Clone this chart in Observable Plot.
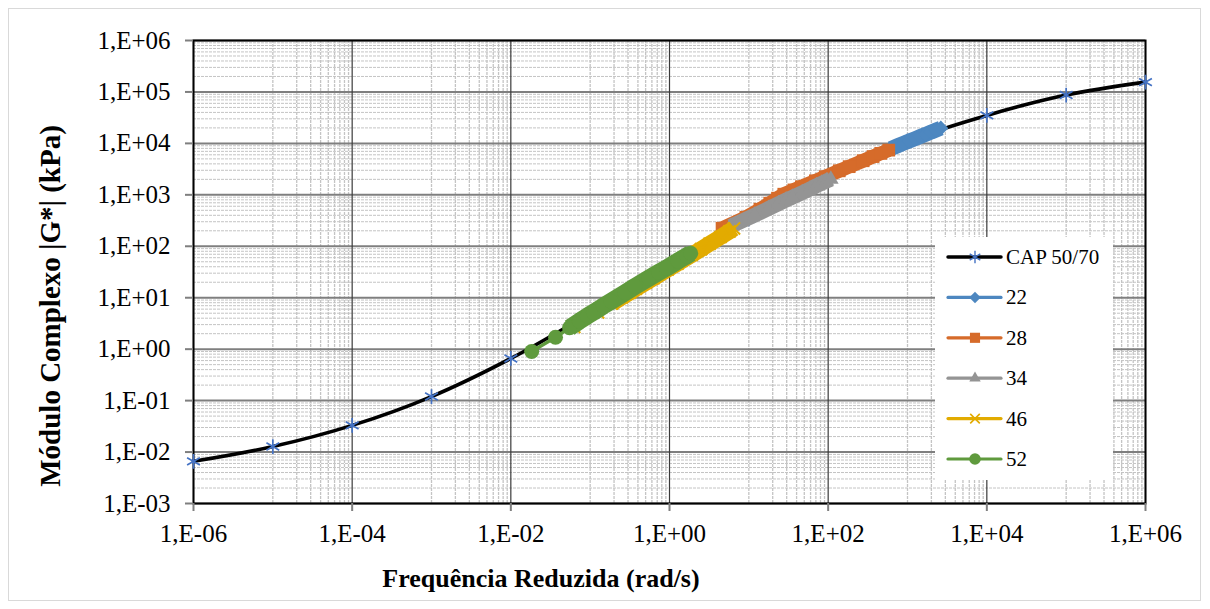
<!DOCTYPE html>
<html><head><meta charset="utf-8">
<script src="https://cdn.jsdelivr.net/npm/d3@7"></script>
<script src="https://cdn.jsdelivr.net/npm/@observablehq/plot@0.6"></script>
<style>
body{margin:0;background:#fff;}
#wrap{position:relative;width:1210px;height:609px;font-family:"Liberation Serif","Times New Roman",serif;}
#border{position:absolute;left:8px;top:8px;width:1193px;height:593px;border:1.5px solid #D9D9D9;box-sizing:border-box}
#chart{position:absolute;left:0;top:0}
#overlay{position:absolute;left:0;top:0;pointer-events:none}
</style></head><body>
<div id="wrap"><div id="border"></div><div id="chart"></div><svg id="overlay" width="1210" height="609"></svg></div>
<script>
// ---- tick values / labels ----
const xTickValues = [1e-6, 1e-4, 1e-2, 1e0, 1e2, 1e4, 1e6];
const xTickLabels = ["1,E-06", "1,E-04", "1,E-02", "1,E+00", "1,E+02", "1,E+04", "1,E+06"];
const yTickValues = [1e-3, 1e-2, 1e-1, 1e0, 1e1, 1e2, 1e3, 1e4, 1e5, 1e6];
const yTickLabels = ["1,E-03", "1,E-02", "1,E-01", "1,E+00", "1,E+01", "1,E+02", "1,E+03", "1,E+04", "1,E+05", "1,E+06"];
const xTitle = "Frequência Reduzida (rad/s)";
const yTitle = "Módulo Complexo |G*| (kPa)";

// ---- series ----
const seriesNames = ["CAP 50/70", "22", "28", "34", "46", "52"];
const capX = [1e-6, 1e-5, 1e-4, 1e-3, 1e-2, 1e-1, 1, 10, 100, 1e3, 1e4, 1e5, 1e6];
const capY = [0.0066, 0.0128, 0.033, 0.12, 0.66, 5.0, 43, 340, 2200, 11000, 35000, 87000, 155000];

const s22X = [615, 750, 900, 1050, 1250, 1450, 1700, 2000, 2300, 2630];
const s22Y = [7900, 9000, 10100, 11100, 12400, 13600, 15000, 16700, 18200, 19800];

const s28X = [4.6, 9.2, 13.8, 18.4, 23, 27.6, 37, 46, 69, 92, 138, 184, 276, 368, 460, 580];
const s28Y = [224, 366, 525, 687, 860, 1028, 1245, 1435, 1870, 2250, 2930, 3530, 4600, 5550, 6400, 7400];

const s34X = [5.9, 11.8, 17.7, 23.6, 29.5, 35.4, 47, 59, 71, 83, 95, 108];
const s34Y = [245, 400, 540, 670, 790, 900, 1100, 1300, 1500, 1680, 1850, 2000];

const s46X = [0.063, 0.126, 0.189, 0.252, 0.315, 0.378, 0.5, 0.63, 0.95, 1.26, 1.9, 2.5, 3.2, 4.4, 5.7, 6.5];
const s46Y = [2.7, 5.2, 7.7, 10.2, 12.6, 15, 19.5, 24, 35.5, 46, 68, 88, 112, 152, 195, 222];

const s52X = [0.0183, 0.0366, 0.055, 0.073, 0.092, 0.11, 0.146, 0.183, 0.275, 0.366, 0.55, 0.73, 0.92, 1.28, 1.65, 1.85];
const s52Y = [0.9, 1.7, 2.6, 3.5, 4.4, 5.2, 6.9, 8.5, 12.5, 16.5, 24, 31, 38, 52, 65, 73];

// ---- styles ----
const styles = {
  "22": {color: "#4D87C0", symbol: "diamond2", r: 6.8, band: 15, bandFrom: 0, filled: true},
  "28": {color: "#D66B2A", symbol: "square", r: 7.2, band: 14, bandFrom: 0, filled: true},
  "34": {color: "#949494", symbol: "triangle", r: 5.8, band: 15, bandFrom: 0, filled: true},
  "46": {color: "#E2AB00", symbol: "times", r: 5.6, band: 16, bandFrom: 2, filled: false},
  "52": {color: "#5F9A3D", symbol: "circle", r: 7.5, band: 17, bandFrom: 2, filled: true}
};
const capColor = "#4472C4";

const toRows = (name, xs, ys) => xs.map((x, i) => ({series: name, x, y: ys[i], i}));
const capRows = toRows("CAP 50/70", capX, capY);
const seriesRows = {
  "22": toRows("22", s22X, s22Y),
  "28": toRows("28", s28X, s28Y),
  "34": toRows("34", s34X, s34Y),
  "46": toRows("46", s46X, s46Y),
  "52": toRows("52", s52X, s52Y)
};

// minor gridlines derived from axis structure
const minorX = [];
for (let e = -6; e < 6; e += 2) for (let k = 1; k <= 9; k++) minorX.push(k * Math.pow(10, e + 1));
const minorY = [];
for (let e = -3; e < 6; e++) for (let k = 2; k <= 9; k++) minorY.push(k * Math.pow(10, e));

const xLab = new Map(xTickValues.map((v, i) => [v, xTickLabels[i]]));
const yLab = new Map(yTickValues.map((v, i) => [v, yTickLabels[i]]));

const marks = [
  Plot.ruleY(minorY, {stroke: "#C4C4C4", strokeWidth: 1, strokeDasharray: "3,1"}),
  Plot.ruleX(minorX, {stroke: "#C4C4C4", strokeWidth: 1.3, strokeDasharray: "3,1"}),
  Plot.ruleY(yTickValues, {stroke: "#7F7F7F", strokeWidth: 2}),
  Plot.ruleX(xTickValues, {stroke: "#3A3A3A", strokeWidth: 1.2}),
  Plot.frame({stroke: "#000", strokeWidth: 2}),
  Plot.axisY(yTickValues, {tickSize: 8, tickPadding: 15, stroke: "#7F7F7F", strokeWidth: 2, fill: "#000",
    fontSize: 25, label: null, tickFormat: d => yLab.get(d)}),
  Plot.axisX(xTickValues, {tickSize: 8, tickPadding: 13, stroke: "#7F7F7F", strokeWidth: 2, fill: "#000",
    fontSize: 25, label: null, tickFormat: d => xLab.get(d)}),
  Plot.line(capRows, {x: "x", y: "y", stroke: "#000", strokeWidth: 3.6, curve: "catmull-rom"}),
  Plot.dot(capRows, {x: "x", y: "y", symbol: "asterisk", r: 7, stroke: capColor, strokeWidth: 1.7})
];
for (const name of ["22", "28", "34", "46", "52"]) {
  const st = styles[name];
  const rows = seriesRows[name];
  marks.push(Plot.line(rows, {x: "x", y: "y", stroke: st.color, strokeWidth: 3.4}));
  marks.push(Plot.line(rows.filter(d => d.i >= st.bandFrom), {x: "x", y: "y", stroke: st.color, strokeWidth: st.band, strokeLinecap: "butt", strokeLinejoin: "round"}));
  if (st.filled) marks.push(Plot.dot(rows, {x: "x", y: "y", symbol: st.symbol, r: st.r, fill: st.color, stroke: "none"}));
  else marks.push(Plot.dot(rows, {x: "x", y: "y", symbol: st.symbol, r: st.r, stroke: st.color, strokeWidth: 2}));
}

const chart = Plot.plot({
  width: 1210, height: 609,
  marginLeft: 193, marginRight: 65, marginTop: 40, marginBottom: 106,
  style: {fontFamily: "'Liberation Serif','Times New Roman',serif", fontSize: "25px", background: "transparent", overflow: "visible"},
  x: {type: "log", domain: [1e-6, 1e6], label: null},
  y: {type: "log", domain: [1e-3, 1e6], label: null},
  marks
});
document.getElementById("chart").appendChild(chart);

// ---- titles and legend overlay ----
const ov = d3.select("#overlay");
ov.append("text").attr("x", 541).attr("y", 578).attr("text-anchor", "middle").attr("dominant-baseline", "central")
  .attr("font-family", "'Liberation Serif','Times New Roman',serif").attr("font-weight", "bold").attr("font-size", 26).text(xTitle);
ov.append("text").attr("transform", "translate(50,306) rotate(-90)").attr("text-anchor", "middle").attr("dominant-baseline", "central")
  .attr("font-family", "'Liberation Serif','Times New Roman',serif").attr("font-weight", "bold").attr("font-size", 29).text(yTitle);

const lg = ov.append("g");
lg.append("rect").attr("x", 935).attr("y", 237).attr("width", 178).attr("height", 243).attr("fill", "#fff");
const symMap = {diamond2: d3.symbolDiamond2, square: d3.symbolSquare, triangle: d3.symbolTriangle, times: d3.symbolTimes, circle: d3.symbolCircle, asterisk: d3.symbolAsterisk};
const legendR = {"22": 5.6, "28": 6.2, "34": 4.6, "46": 4.8, "52": 6.3};
seriesNames.forEach((name, i) => {
  const cy = 257 + i * 40.4;
  const isCap = i === 0;
  const st = isCap ? {color: "#000", symbol: "asterisk", filled: false} : styles[name];
  const r = isCap ? 5.8 : legendR[name];
  lg.append("line").attr("x1", 948).attr("x2", 1001).attr("y1", cy).attr("y2", cy)
    .attr("stroke", st.color).attr("stroke-width", isCap ? 3.5 : 3.2).attr("stroke-linecap", "round");
  const sym = d3.symbol(symMap[st.symbol], Math.PI * r * r * (isCap ? 1 : 0.85));
  const p = lg.append("path").attr("d", sym()).attr("transform", `translate(975,${cy})`);
  if (isCap) p.attr("fill", "none").attr("stroke", capColor).attr("stroke-width", 1.4);
  else if (st.filled) p.attr("fill", st.color);
  else p.attr("fill", "none").attr("stroke", st.color).attr("stroke-width", 1.6);
  lg.append("text").attr("x", 1006).attr("y", cy).attr("dominant-baseline", "central")
    .attr("font-family", "'Liberation Serif','Times New Roman',serif").attr("font-size", 21).attr("fill", "#000").text(name);
});
</script>
</body></html>
